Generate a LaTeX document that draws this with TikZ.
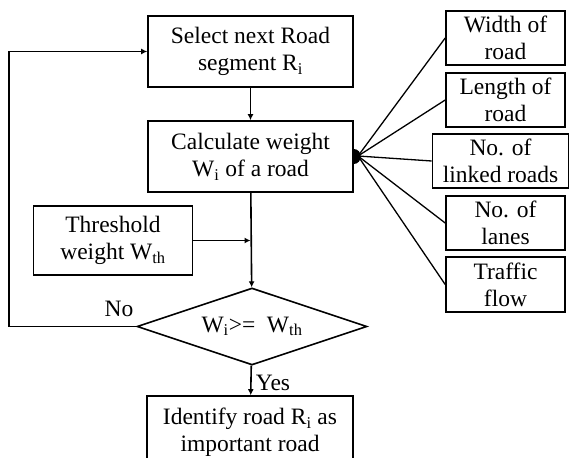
\documentclass[tikz,border=0pt]{standalone}
\usepackage{fontspec}
\setmainfont{Liberation Serif}
\usetikzlibrary{shapes.geometric,arrows.meta}
\begin{document}
\begin{tikzpicture}[x=1pt,y=-1pt,
  every node/.style={font=\fontsize{23.5}{27}\selectfont, inner sep=0pt},
  box/.style={draw, line width=1.6pt, align=center},
  conn/.style={line width=1.6pt},
  arr/.style={conn, -{Latex[length=6pt,width=6pt]}},
  spoke/.style={line width=1.3pt}]
\useasboundingbox (0,0) rectangle (569,457);
\clip (0,0) rectangle (569,457);
\node[box, minimum width=205pt, minimum height=71pt] (sel) at (250.5,51.5) {Select next Road\\segment R\textsubscript{i}};
\node[box, minimum width=205pt, minimum height=71pt] (calc) at (250.5,156.5) {Calculate weight\\W\textsubscript{i} of a road};
\node[box, minimum width=159pt, minimum height=69pt] (thr) at (113,240.5) {Threshold\\weight W\textsubscript{th}};
\node[draw, line width=1.6pt, diamond, aspect=3, minimum width=230pt, minimum height=77pt] (dec) at (252,326.5) {W\textsubscript{i}>=\ \ W\textsubscript{th}};
\node[box, minimum width=206pt, minimum height=72pt] (idf) at (250,432) {Identify road R\textsubscript{i} as\\important road};
\node[box, minimum width=119pt, minimum height=54pt] (wid) at (505.5,38) {Width of\\road};
\node[box, minimum width=119pt, minimum height=54pt] (len) at (505.5,100) {Length of\\road};
\node[box, minimum width=136pt, minimum height=54pt] (lnk) at (500.5,161) {No. of\\linked roads};
\node[box, minimum width=119pt, minimum height=54pt] (lan) at (505.5,223) {No. of\\lanes};
\node[box, minimum width=119pt, minimum height=55pt] (trf) at (505.5,284.5) {Traffic\\flow};
\coordinate (hub) at (358,156);
\fill (calc.east) ++(0,-7.5) arc[start angle=90, end angle=-90, x radius=7pt, y radius=7.5pt] -- cycle;
\foreach \b in {wid,len,lnk,lan,trf} \draw[spoke] (hub) -- (\b.west);
\draw[arr] (sel) -- (calc);
\draw[arr] (calc) -- (dec);
\coordinate (join) at (calc.south |- thr.east);
\draw[arr] (thr.east) -- (join);
\draw[arr] (dec) -- (idf);
\coordinate (lb) at (9,326.5);
\coordinate (lt) at (9,51.5);
\draw[arr] (dec.west) -- (lb) -- (lt) -- (sel.west);
\node (no) at (119,309) {No};
\node (yes) at (273,383) {Yes};
\end{tikzpicture}
\end{document}
